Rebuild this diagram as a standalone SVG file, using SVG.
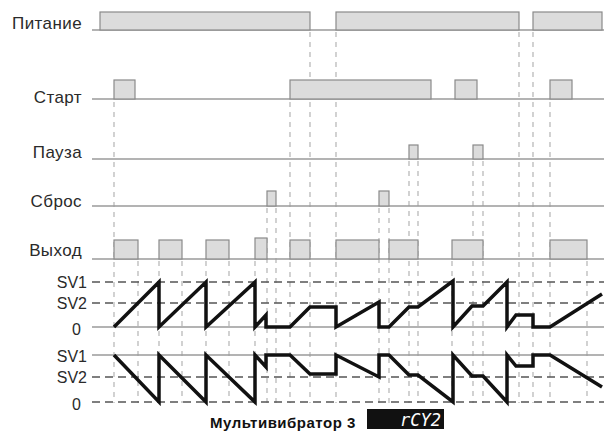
<svg xmlns="http://www.w3.org/2000/svg" width="604" height="432" viewBox="0 0 604 432">
<style>
.lbl{font-family:"Liberation Sans",Arial,sans-serif;font-size:16px;fill:#2a2a2a;text-anchor:end}
.nm{font-size:17px;letter-spacing:0.4px}
.sig{stroke:#9a9a9a;stroke-width:1.5;fill:none}
.bar{fill:#dcdcdc;stroke:#8a8a8a;stroke-width:1.2}
.vd{stroke:#b4b4b4;stroke-width:1.2;stroke-dasharray:5 5;fill:none}
.hd{stroke:#555;stroke-width:1.5;stroke-dasharray:8 5;fill:none}
.wave{stroke:#111;stroke-width:3.5;fill:none;stroke-linejoin:miter}
.title{font-family:"Liberation Sans",Arial,sans-serif;font-size:15px;letter-spacing:0.5px;font-weight:bold;fill:#111}
.disp{font-family:"DejaVu Sans Mono",monospace;font-size:17px;font-style:italic;fill:#fff;text-anchor:end}
</style>
<rect width="604" height="432" fill="#fff"/>

<g id="connectors" class="vd">
<path d="M114 102V403M290 102V403M550 102V403"/>
<path d="M310 32V403M336 32V403M519 32V403M533 32V403"/>
<path d="M138 261V403M159 261V403M182 261V403M206 261V403M229 261V403M255 261V403M452 261V403M587 261V403"/>
<path d="M267 208V403M276 208V403M379 208V403M389 208V403"/>
<path d="M409 161V403M418 161V403M473 161V403M483 161V403"/>
</g>

<g id="pitanie">
<text class="lbl nm" x="82" y="29">Питание</text>
<line class="sig" x1="92" y1="30" x2="604" y2="30"/>
<rect class="bar" x="100" y="12" width="210" height="18"/>
<rect class="bar" x="336" y="12" width="183" height="18"/>
<rect class="bar" x="533" y="12" width="69" height="18"/>
</g>

<g id="start">
<text class="lbl nm" x="82" y="103">Старт</text>
<line class="sig" x1="92" y1="99" x2="604" y2="99"/>
<rect class="bar" x="114" y="80" width="21" height="19"/>
<rect class="bar" x="290" y="80" width="141" height="19"/>
<rect class="bar" x="455" y="80" width="22" height="19"/>
<rect class="bar" x="550" y="80" width="22" height="19"/>
</g>

<g id="pauza">
<text class="lbl nm" x="82" y="158">Пауза</text>
<line class="sig" x1="92" y1="159" x2="604" y2="159"/>
<rect class="bar" x="409" y="145" width="9" height="14"/>
<rect class="bar" x="473" y="145" width="10" height="14"/>
</g>

<g id="sbros">
<text class="lbl nm" x="82" y="207">Сброс</text>
<line class="sig" x1="92" y1="206" x2="604" y2="206"/>
<rect class="bar" x="267" y="191" width="9" height="15"/>
<rect class="bar" x="379" y="191" width="10" height="15"/>
</g>

<g id="vyhod">
<text class="lbl nm" x="82" y="256">Выход</text>
<line class="sig" x1="92" y1="259" x2="604" y2="259"/>
<rect class="bar" x="114" y="240" width="24" height="19"/>
<rect class="bar" x="159" y="240" width="23" height="19"/>
<rect class="bar" x="206" y="240" width="23" height="19"/>
<rect class="bar" x="255" y="238" width="12" height="21"/>
<rect class="bar" x="290" y="240" width="20" height="19"/>
<rect class="bar" x="336" y="240" width="43" height="19"/>
<rect class="bar" x="389" y="240" width="29" height="19"/>
<rect class="bar" x="452" y="240" width="31" height="19"/>
<rect class="bar" x="550" y="240" width="37" height="19"/>
</g>

<g id="graph-up">
<text class="lbl" x="87" y="288">SV1</text>
<text class="lbl" x="87" y="309">SV2</text>
<text class="lbl" x="81" y="335">0</text>
<line class="hd" x1="92" y1="282" x2="604" y2="282"/>
<line class="hd" x1="92" y1="303" x2="604" y2="303"/>
<line class="sig" x1="92" y1="327" x2="604" y2="327"/>
<polyline class="wave" points="114,327 159,282 159,327 206,282 206,327 255,282 255,327 266,315 266,327 290,327 310,307 336,307 336,327 379,302 379,327 389,327 409,307 418,307 453,281 453,327 472,306 483,306 507,282 507,327 516,315 533,315 533,327 550,327 602,294"/>
</g>

<g id="graph-down">
<text class="lbl" x="87" y="362">SV1</text>
<text class="lbl" x="87" y="383">SV2</text>
<text class="lbl" x="81" y="410">0</text>
<line class="sig" x1="92" y1="355" x2="604" y2="355"/>
<line class="hd" x1="92" y1="377" x2="604" y2="377"/>
<line class="hd" x1="92" y1="402" x2="604" y2="402"/>
<polyline class="wave" points="114,355 159,402 159,355 206,402 206,355 255,402 255,355 266,367 266,355 290,355 310,374 336,374 336,355 379,377 379,355 389,355 409,375 418,375 453,402 453,355 472,376 483,376 507,402 507,355 516,366 533,366 533,355 550,355 602,387"/>
</g>

<g id="title">
<text class="title" x="210" y="428">Мультивибратор 3</text>
</g>

<g id="display">
<rect x="367" y="409" width="77" height="20" fill="#111"/>
<text class="disp" x="441" y="426">rCY2</text>
</g>
</svg>
